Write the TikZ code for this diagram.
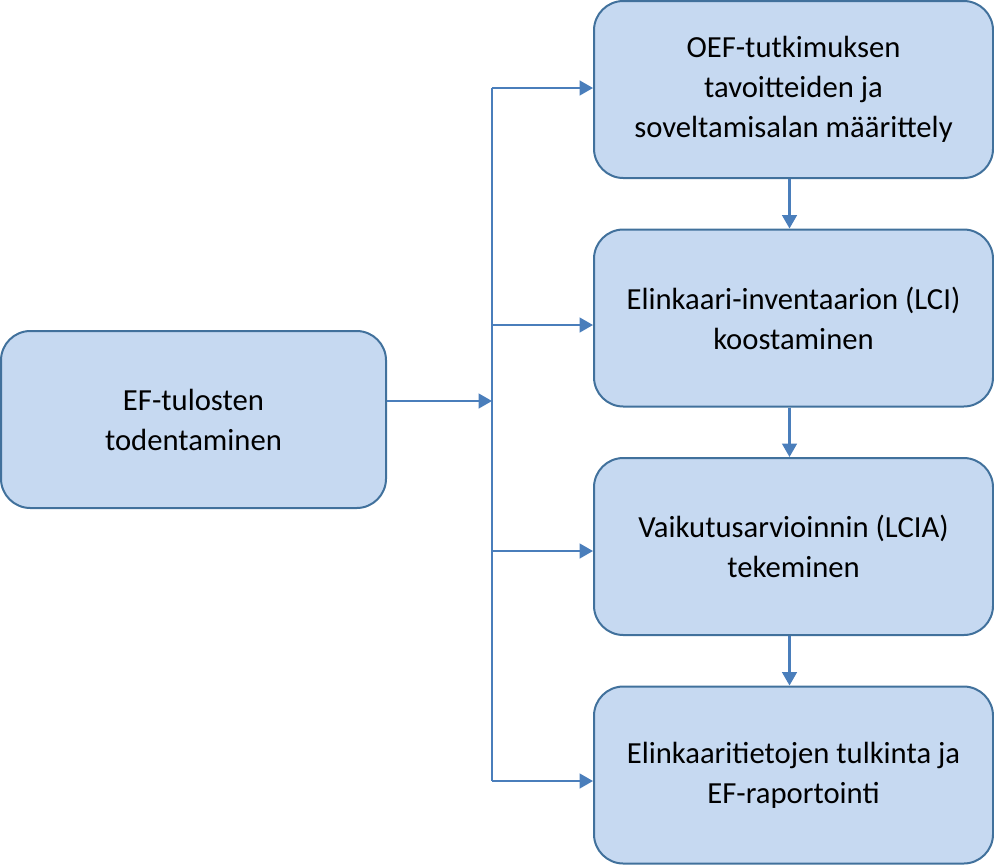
\documentclass[tikz,border=0pt]{standalone}
\usepackage{fontspec}
\setmainfont{Carlito}
\usepackage{tikz}
\usetikzlibrary{arrows.meta,calc}
\definecolor{boxfill}{HTML}{C6D9F1}
\definecolor{boxline}{HTML}{41719C}
\definecolor{arrowblue}{HTML}{4A7EBB}
\tikzset{
  stepbox/.style={draw=boxline,fill=boxfill,line width=1.5pt,rounded corners=22pt,
    align=center,minimum height=132.75pt,inner sep=0pt,
    font=\fontsize{23}{30}\selectfont},
  arrowline/.style={draw=arrowblue,line width=1.6pt,-{Triangle[length=10pt,width=11pt]}}
}

\begin{document}
\begin{tikzpicture}[x=0.75pt,y=-0.75pt]
  \useasboundingbox (0,0) rectangle (994,865);
  \node[stepbox,minimum width=288.75pt] (tulos) at (193.5,419.5) {EF-tulosten\\todentaminen};
  \node[stepbox,minimum width=299.25pt] (tavoite) at (793.5,89.5) {OEF-tutkimuksen\\tavoitteiden ja\\soveltamisalan määrittely};
  \node[stepbox,minimum width=299.25pt] (lci) at (793.5,318) {Elinkaari-inventaarion (LCI)\\koostaminen};
  \node[stepbox,minimum width=299.25pt] (lcia) at (793.5,546.5) {Vaikutusarvioinnin (LCIA)\\tekeminen};
  \node[stepbox,minimum width=299.25pt] (tulkinta) at (793.5,775) {Elinkaaritietojen tulkinta ja\\EF-raportointi};
  % haarautuva runko
  \coordinate (haara) at (492,401);
  \coordinate (yla) at (492,88);
  \coordinate (ala) at (492,781);
  \draw[arrowline] (tulos.east |- haara) -- (haara);
  \draw[arrowblue,line width=1.6pt] (yla) -- (ala);
  \foreach \kohde/\y in {tavoite/88,lci/325,lcia/551,tulkinta/781}
    \draw[arrowline] (492,\y) -- (\kohde.west |- 0,\y);
  % vaiheet alaspain
  \draw[arrowline] ($(tavoite.south)+(-4,0)$) -- ($(lci.north)+(-4,0)$);
  \draw[arrowline] ($(lci.south)+(-4,0)$) -- ($(lcia.north)+(-4,0)$);
  \draw[arrowline] ($(lcia.south)+(-4,0)$) -- ($(tulkinta.north)+(-4,0)$);
\end{tikzpicture}
\end{document}
